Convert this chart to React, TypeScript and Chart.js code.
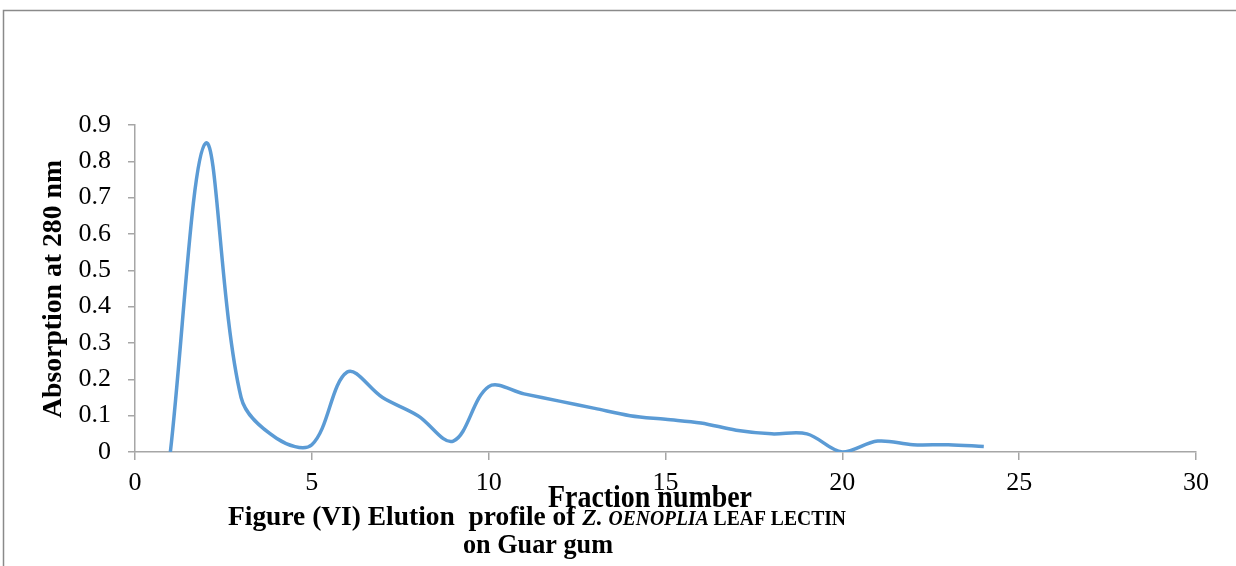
import React, { useEffect, useRef } from "react";
import { Chart, registerables } from "chart.js";

Chart.register(...registerables);

const fractions = [1, 2, 3, 4, 5, 6, 7, 8, 9, 10, 11, 12, 13, 14, 15, 16, 17, 18, 19, 20, 21, 22, 23, 24];
const absorption = [0, 0.85, 0.15, 0.038, 0.02, 0.22, 0.15, 0.1, 0.03, 0.18, 0.16, 0.14, 0.12, 0.1, 0.09, 0.08, 0.06, 0.05, 0.05, 0, 0.03, 0.02, 0.02, 0.015];

const yTitle = "Absorption at 280 nm";
const xTitle = "Fraction number";
const captionLine1 = [
  { text: "Figure (VI) Elution  profile of ", style: "bold", size: 28 },
  { text: "Z. ", style: "italic bold", size: 24 },
  { text: "OENOPLIA ", style: "italic bold", size: 20 },
  { text: "LEAF LECTIN", style: "bold", size: 20 },
];
const captionLine2 = "on Guar gum";

const SERIF = '"Liberation Serif", "Times New Roman", serif';

type Part = { text: string; style: string; size: number };

function drawFit(ctx: CanvasRenderingContext2D, parts: Part[], cx: number, baseline: number, target: number, rotate = false) {
  ctx.save();
  let total = 0;
  const widths = parts.map((p) => {
    ctx.font = `${p.style} ${p.size}px ${SERIF}`;
    const w = ctx.measureText(p.text).width;
    total += w;
    return w;
  });
  const s = target / total;
  ctx.translate(cx, baseline);
  if (rotate) ctx.rotate(-Math.PI / 2);
  ctx.scale(s, 1);
  ctx.fillStyle = "#000";
  ctx.textBaseline = "alphabetic";
  ctx.textAlign = "left";
  let x = -total / 2;
  parts.forEach((p, i) => {
    ctx.font = `${p.style} ${p.size}px ${SERIF}`;
    ctx.fillText(p.text, x, 0);
    x += widths[i];
  });
  ctx.restore();
}

const textPlugin = {
  id: "textPlugin",
  afterDraw(chart: any) {
    const ctx: CanvasRenderingContext2D = chart.ctx;
    ctx.save();
    ctx.strokeStyle = "#8a8a8a";
    ctx.lineWidth = 1.5;
    ctx.beginPath();
    ctx.moveTo(3.5, 600);
    ctx.lineTo(3.5, 10.5);
    ctx.lineTo(1300, 10.5);
    ctx.stroke();
    ctx.restore();

    drawFit(ctx, [{ text: yTitle, style: "bold", size: 28 }], 61, 289, 258, true);
    drawFit(ctx, [{ text: xTitle, style: "bold", size: 31 }], 650, 507, 204);
    drawFit(ctx, captionLine1, 537, 525, 618);
    drawFit(ctx, [{ text: captionLine2, style: "bold", size: 27 }], 538, 553, 150);
  },
};

export default function App() {
  const ref = useRef<HTMLCanvasElement>(null);
  useEffect(() => {
    if (!ref.current) return;
    const chart = new Chart(ref.current, {
      type: "line",
      data: {
        datasets: [
          {
            data: fractions.map((f, i) => ({ x: f, y: absorption[i] })),
            borderColor: "#5B9BD5",
            borderWidth: 3.5,
            pointRadius: 0,
            tension: 0.35,
            fill: false,
          },
        ],
      },
      options: {
        animation: false,
        responsive: true,
        maintainAspectRatio: false,
        layout: { padding: { top: 125, right: 40, left: 0, bottom: 0 } },
        plugins: { legend: { display: false }, tooltip: { enabled: false }, title: { display: false } },
        scales: {
          x: {
            type: "linear",
            min: 0,
            max: 30,
            afterFit: (s: any) => {
              s.height = 114;
            },
            ticks: {
              stepSize: 5,
              color: "#000",
              padding: 8,
              maxRotation: 0,
              font: { family: SERIF, size: 26 },
            },
            grid: { drawOnChartArea: false, drawTicks: true, tickLength: 8, color: "#a6a6a6", lineWidth: 1.5 },
            border: { color: "#a6a6a6", width: 1.5 },
          },
          y: {
            min: 0,
            max: 0.9,
            afterFit: (s: any) => {
              s.width = 135;
            },
            ticks: {
              stepSize: 0.1,
              color: "#000",
              padding: 17,
              font: { family: SERIF, size: 26 },
              callback: (v: any) => Number(Number(v).toFixed(1)).toString(),
            },
            grid: { drawOnChartArea: false, drawTicks: true, tickLength: 7, color: "#a6a6a6", lineWidth: 1.5 },
            border: { color: "#a6a6a6", width: 1.5 },
          },
        },
      },
      plugins: [textPlugin],
    });
    return () => chart.destroy();
  }, []);
  return (
    <div style={{ position: "absolute", left: 0, top: 0, width: 1236, height: 566, background: "#fff" }}>
      <canvas ref={ref} />
    </div>
  );
}
